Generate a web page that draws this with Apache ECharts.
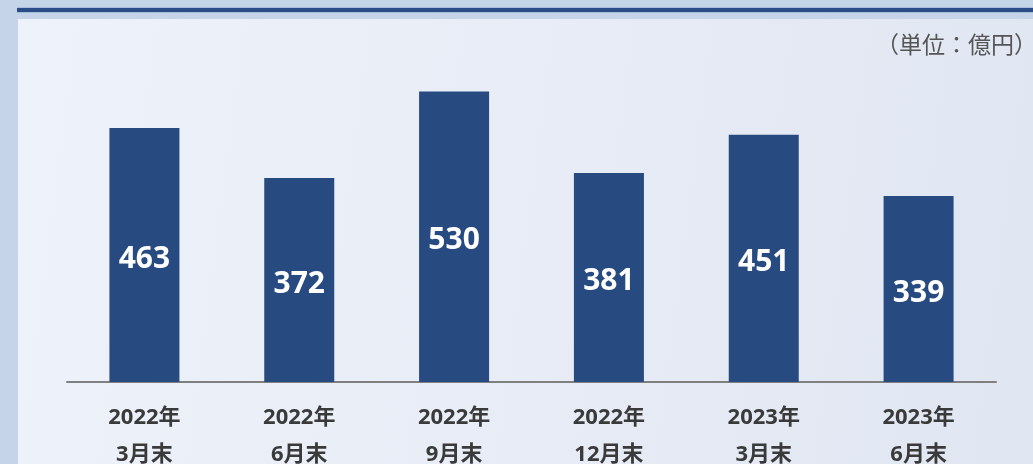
<!DOCTYPE html>
<html>
<head>
<meta charset="utf-8">
<script src="https://cdn.jsdelivr.net/npm/echarts@6/dist/echarts.min.js"></script>
<style>
  html, body { margin: 0; padding: 0; background: #c6d4e9; }
  #main { width: 1033px; height: 464px; }
</style>
</head>
<body>
<div id="main"></div>
<script>
'use strict';

// 期末残高（億円）
const categories = ['2022年\n3月末', '2022年\n6月末', '2022年\n9月末', '2022年\n12月末', '2023年\n3月末', '2023年\n6月末'];
const balances = [463, 372, 530, 381, 451, 339];
const unitLabel = '（単位：億円）';

const FONT = '"Noto Sans", "Noto Sans CJK JP", sans-serif';
const CJK_FONT = '"Noto Sans CJK JP", sans-serif';

let mChart = echarts.init(document.getElementById('main'));

let options = {
    animation: false,
    backgroundColor: '#c6d4e9',
    graphic: [
        {
            type: 'rect',
            shape: { x: 17, y: 7, width: 1016, height: 6 },
            style: { fill: '#a9bddb' },
            silent: true
        },
        {
            type: 'rect',
            shape: { x: 17, y: 8, width: 1016, height: 4 },
            style: { fill: '#2a4d87' },
            silent: true
        },
        {
            type: 'rect',
            shape: { x: 18, y: 19, width: 1015, height: 445 },
            style: {
                fill: new echarts.graphic.LinearGradient(0, 0, 1, 0.3, [
                    { offset: 0, color: '#eef2fa' },
                    { offset: 1, color: '#e1e7f2' }
                ])
            },
            silent: true,
            z: -1
        },
        {
            type: 'text',
            left: 876,
            top: 33,
            style: {
                text: unitLabel,
                fill: '#555555',
                font: '23px ' + CJK_FONT
            }
        }
    ],
    grid: {
        left: 67,
        right: 37,
        top: 53,
        bottom: 82,
        containLabel: false,
        outerBoundsMode: 'none'
    },
    xAxis: {
        type: 'category',
        data: categories,
        axisTick: { show: false },
        axisLine: { lineStyle: { color: '#808080', width: 2 } },
        axisLabel: {
            color: '#3a3a3a',
            fontFamily: FONT,
            fontWeight: 'bold',
            fontSize: 22,
            lineHeight: 37,
            margin: 17
        }
    },
    yAxis: {
        type: 'value',
        min: 0,
        max: 600,
        show: false,
        splitLine: { show: false }
    },
    series: [{
        type: 'bar',
        data: balances,
        barWidth: 70,
        itemStyle: { color: '#274a81' },
        label: {
            show: true,
            position: 'inside',
            offset: [0, 4],
            color: '#ffffff',
            fontFamily: FONT,
            fontWeight: 'bold',
            fontSize: 30
        }
    }]
};

mChart.setOption(options, true);

window.onresize = function () {
    mChart.resize();
};
</script>
</body>
</html>
